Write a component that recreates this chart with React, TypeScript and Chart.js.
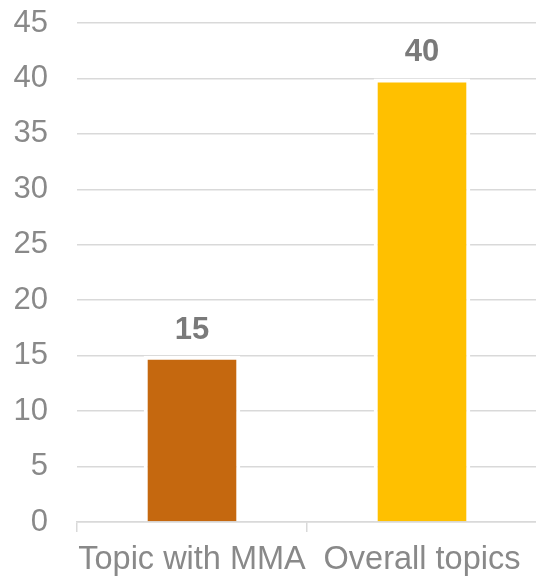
import React, { useEffect, useRef } from "react";
import { Chart, registerables } from "chart.js";

Chart.register(...registerables);

const categories = ["Topic with MMA", "Overall topics"];
const values = [15, 40];
const barColors = ["#C5680F", "#FFC000"];
const yTicks = { min: 0, max: 45, step: 5 };

const FONT = "'Liberation Sans', Arial, sans-serif";

const labelPlugin = {
  id: "barLabels",
  afterDatasetsDraw(chart: any) {
    const ctx = chart.ctx;
    const meta = chart.getDatasetMeta(0);
    ctx.save();
    ctx.font = `bold 31px ${FONT}`;
    ctx.fillStyle = "#7a7a7a";
    ctx.textAlign = "center";
    ctx.textBaseline = "alphabetic";
    meta.data.forEach((el: any, i: number) => {
      const v = chart.data.datasets[0].data[i];
      ctx.fillText(String(v), el.x, el.y - 17);
    });
    ctx.restore();
  },
};

export default function App() {
  const ref = useRef<HTMLCanvasElement | null>(null);
  useEffect(() => {
    if (!ref.current) return;
    const chart = new Chart(ref.current, {
      type: "bar",
      data: {
        labels: categories,
        datasets: [
          {
            data: values,
            backgroundColor: barColors,
            borderColor: "#ffffff",
            borderWidth: 4,
            borderSkipped: "start",
            categoryPercentage: 1,
            barPercentage: 0.42,
          },
        ],
      },
      options: {
        responsive: false,
        animation: false,
        layout: { padding: { top: 23, right: 0, left: 0, bottom: 0 } },
        plugins: { legend: { display: false }, tooltip: { enabled: false } },
        scales: {
          x: {
            offset: true,
            grid: {
              offset: true,
              drawOnChartArea: false,
              tickLength: 10,
              color: "#d9d9d9",
              lineWidth: 1.5,
            },
            border: { display: true, color: "#d9d9d9", width: 1.5 },
            ticks: {
              color: "#898989",
              font: { family: FONT, size: 32.5 },
              padding: 9,
              maxRotation: 0,
              autoSkip: false,
            },
            afterFit: (s: any) => {
              s.height = 56;
            },
          },
          y: {
            min: yTicks.min,
            max: yTicks.max,
            ticks: {
              stepSize: yTicks.step,
              color: "#898989",
              font: { family: FONT, size: 31 },
              padding: 0,
            },
            grid: {
              drawTicks: true,
              tickLength: 29,
              tickColor: "rgba(0,0,0,0)",
              color: "#d9d9d9",
              lineWidth: 1.5,
            },
            border: { display: false },
            afterFit: (s: any) => {
              s.width = 77;
            },
          },
        },
      },
      plugins: [labelPlugin],
    });
    return () => chart.destroy();
  }, []);
  return (
    <div
      style={{
        position: "fixed",
        left: 0,
        top: 0,
        width: 536,
        height: 578,
        overflow: "hidden",
        background: "#fff",
      }}
    >
      <canvas ref={ref} width={537} height={578} style={{ display: "block" }} />
    </div>
  );
}
